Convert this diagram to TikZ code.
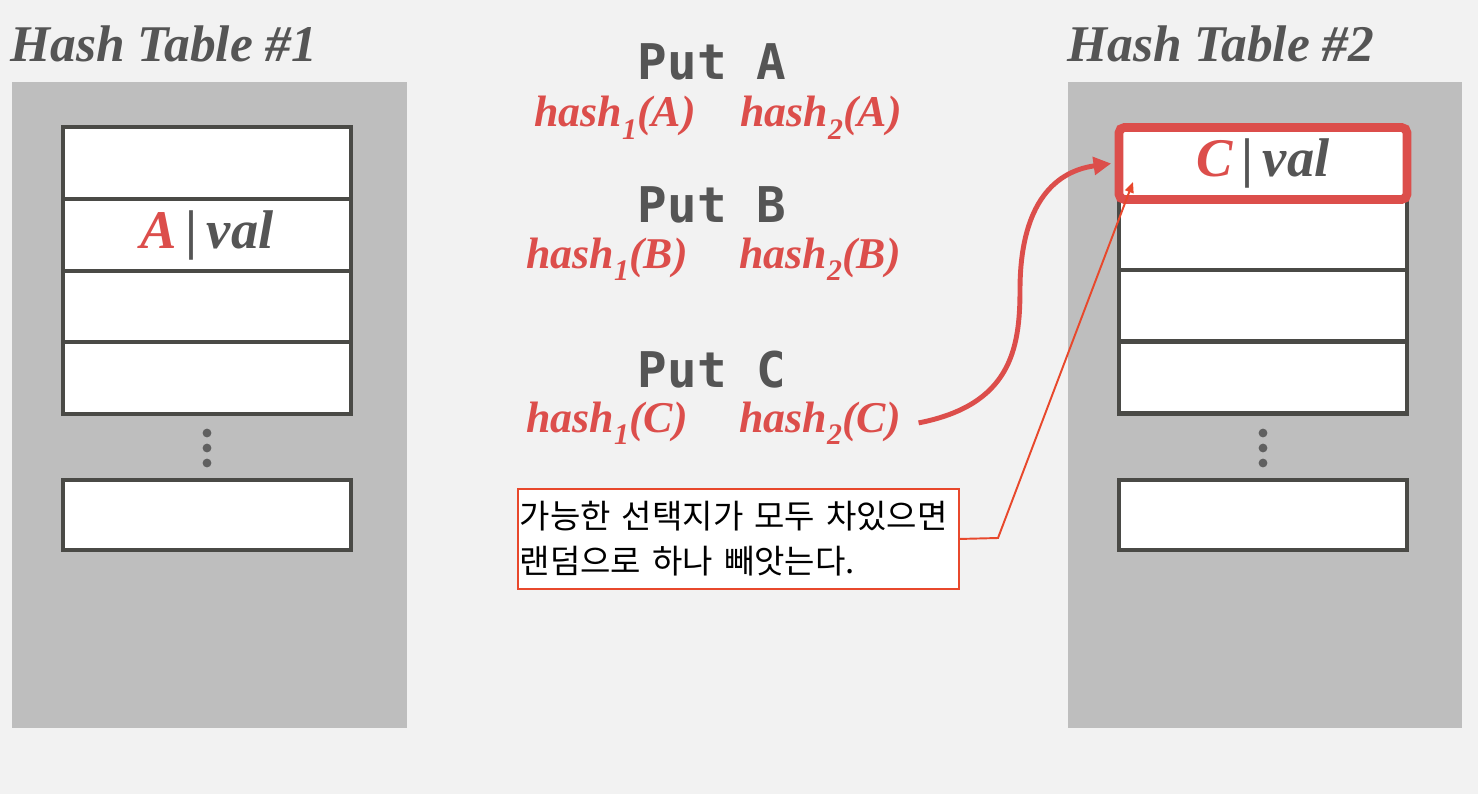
\documentclass[tikz,border=0pt]{standalone}
\usepackage{fontspec}
\setmainfont{Liberation Serif}
\newfontfamily\putfont{DejaVu Sans Mono}
\newfontfamily\krfont{Noto Sans CJK KR}
\usetikzlibrary{arrows.meta}
\definecolor{bgc}{HTML}{F2F2F2}
\definecolor{panelc}{HTML}{BEBEBE}
\definecolor{slotc}{HTML}{4A4A46}
\definecolor{titlec}{HTML}{555555}
\definecolor{hotc}{HTML}{DC4E4B}
\definecolor{leadc}{HTML}{E8482C}
\definecolor{dotc}{HTML}{606060}
\newcommand\hashof[2]{hash\raisebox{-0.28em}{\fontsize{17}{17}\selectfont#1}(#2)}
\begin{document}
\begin{tikzpicture}[x=0.02cm,y=-0.02cm,
  panel/.style={fill=panelc,minimum width=7.9cm,minimum height=12.92cm,inner sep=0},
  slot/.style={draw=slotc,fill=white,line width=2.3pt,minimum width=5.76cm,minimum height=1.44cm,
    inner sep=0,text=titlec,font=\bfseries\itshape\fontsize{31}{31}\selectfont},
  hotslot/.style={slot,draw=hotc,line width=5pt,rounded corners=3pt},
  title/.style={anchor=base west,inner sep=0,text=titlec,font=\bfseries\itshape\fontsize{29.3}{30}\selectfont},
  put/.style={anchor=base,inner sep=0,text=titlec,font=\putfont\bfseries\fontsize{28}{28}\selectfont},
  hsh/.style={anchor=base,inner sep=0,text=hotc,font=\bfseries\itshape\fontsize{25}{25}\selectfont},
  note/.style={draw=leadc,line width=1.1pt,fill=white,anchor=north west,minimum width=8.8cm,
    minimum height=2cm,text width=8.75cm,inner sep=1pt,align=left,font=\krfont\fontsize{18.8}{25.5}\selectfont}]
\fill[bgc] (0,0) rectangle (1478,794);
% table 1
\node[title] (t1) at (10,62) {Hash Table \#1};
\node[panel] (p1) at (209.5,405) {};
\foreach \i/\y in {1/163,3/306,4/378}
  \node[slot] (left\i) at (207,\y) {};
\node[slot] (left2) at (207,235) {{\color{hotc}A}\,\textup{|}\,val};
\foreach \y in {433,448,463} \fill[dotc] (207,\y) circle (2.5pt);
\node[slot,minimum height=1.4cm] (leftn) at (207,515) {};
% table 2
\node[title] (t2) at (1067,62) {Hash Table \#2};
\node[panel] (p2) at (1265,405) {};
\foreach \i/\y in {2/235,3/306,4/377.5}
  \node[slot] (right\i) at (1263,\y) {};
\node[hotslot] (right1) at (1263,163.5) {{\color{hotc}C}\,\textup{|}\,val};
\foreach \y in {433,448,463} \fill[dotc] (1263,\y) circle (2.5pt);
\node[slot,minimum height=1.4cm] (rightn) at (1263,515) {};
% operations
\node[put] (pa) at (712,80) {Put A};
\node[hsh] (h1a) at (615,127) {\hashof{1}{A}};
\node[hsh] (h2a) at (821,127) {\hashof{2}{A}};
\node[put] (pb) at (712,222) {Put B};
\node[hsh] (h1b) at (607,268) {\hashof{1}{B}};
\node[hsh] (h2b) at (820,268) {\hashof{2}{B}};
\node[put] (pc) at (712,387) {Put C};
\node[hsh] (h1c) at (607,432) {\hashof{1}{C}};
\node[hsh] (h2c) at (820,432) {\hashof{2}{C}};
\draw[hotc,line width=2.8pt,-{Triangle[length=10pt,width=10pt]}]
  ([xshift=10pt]h2c.east) .. controls (1010,405) and (1020,350) .. (1020,290)
  .. controls (1020,210) and (1050,172) .. ([xshift=-2pt]right1.west);
% note
\node[note] (note) at (517,488) {가능한 선택지가 모두 차있으면\\랜덤으로 하나 빼앗는다.};
\coordinate (bend) at (998,538);
\coordinate (tip) at (1133,182);
\draw[leadc,line width=1.1pt,-{Triangle[length=6pt,width=5pt]}] (note.east) -- (bend) -- (tip);
\end{tikzpicture}
\end{document}
